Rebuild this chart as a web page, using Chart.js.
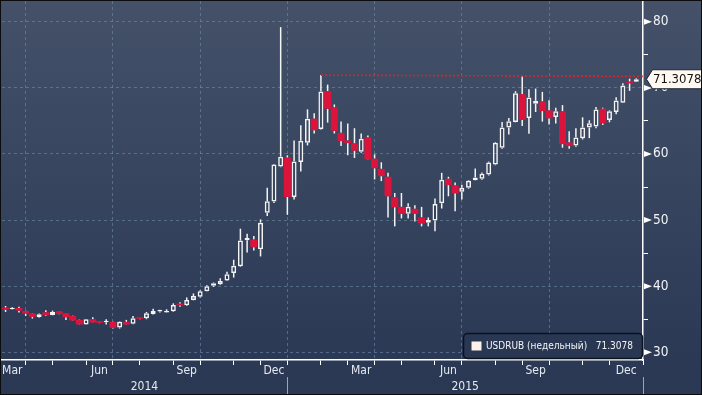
<!DOCTYPE html>
<html>
<head>
<meta charset="utf-8">
<script src="https://cdn.jsdelivr.net/npm/chart.js@4.4.0/dist/chart.umd.min.js"></script>
<style>
  html, body { margin: 0; padding: 0; background: #2b3955; }
  canvas { display: block; }
</style>
</head>
<body>
<canvas id="usdrubChart" width="702" height="395"></canvas>
<script>
/* USDRUB weekly candles, Mar 2014 - Dec 2015 */

const seriesName = 'USDRUB (недельный)';

// weekly OHLC, one entry per week starting with the week of 7 Mar 2014
const opens = [35.9, 36.75, 36.5, 36.7, 36.25, 35.85, 35.35, 36.05, 35.65, 36.2,
    35.9, 35.5, 34.9, 34.2, 35.0, 34.6, 34.55, 34.6, 33.75, 34.6,
    34.3, 35.3, 35.15, 35.8, 36.15, 36.0, 36.2, 37.35, 37.1, 37.9,
    38.4, 39.25, 40.05, 40.3, 40.85, 42.0, 43.0, 46.95, 47.05, 45.6,
    51.1, 52.8, 58.1, 59.45, 53.5, 58.8, 61.7, 65.35, 63.8, 69.5,
    67.05, 63.2, 62.05, 61.6, 60.35, 62.5, 59.3, 57.75, 56.55, 53.45,
    52.0, 50.95, 51.7, 50.4, 49.6, 49.95, 52.55, 56.25, 55.25, 54.3,
    54.9, 56.05, 56.25, 56.9, 58.4, 60.95, 64.0, 64.85, 69.05, 65.45,
    67.6, 67.95, 66.6, 65.6, 66.45, 61.75, 61.3, 62.4, 64.0, 64.15,
    66.85, 65.15, 66.35, 67.75, 70.95, 70.95];
const highs = [36.45, 37.0, 36.8, 36.9, 36.3, 35.9, 35.85, 36.35, 36.3, 36.25,
    35.95, 35.55, 34.95, 35.05, 35.3, 34.65, 35.0, 34.65, 34.65, 34.9,
    35.5, 35.35, 36.1, 36.6, 36.45, 36.5, 37.4, 37.55, 38.3, 38.9,
    39.4, 40.15, 40.55, 41.2, 42.2, 44.0, 48.7, 47.95, 47.6, 50.1,
    54.9, 58.5, 79.2, 59.8, 62.05, 64.35, 66.75, 66.15, 71.95, 70.5,
    67.5, 64.9, 64.6, 63.9, 63.1, 62.8, 59.95, 58.75, 57.15, 54.1,
    54.1, 52.55, 52.25, 52.0, 50.4, 53.25, 57.15, 56.55, 55.7, 55.35,
    56.05, 57.8, 57.2, 58.85, 61.8, 64.85, 65.45, 69.5, 71.8, 69.8,
    69.9, 69.4, 68.15, 67.0, 67.4, 63.45, 63.9, 65.55, 65.1, 67.1,
    67.0, 66.6, 68.6, 70.7, 71.4, 71.45];
const lows = [35.5, 36.1, 36.45, 36.0, 35.5, 35.1, 35.25, 35.5, 35.6, 35.75,
    34.9, 34.75, 34.15, 34.15, 34.45, 34.4, 34.2, 33.6, 33.6, 34.15,
    34.25, 35.0, 35.0, 35.7, 36.0, 35.95, 36.1, 36.9, 37.0, 37.85,
    38.3, 39.2, 39.9, 40.2, 40.8, 41.3, 42.9, 45.1, 45.4, 44.5,
    50.6, 52.6, 58.0, 50.8, 53.1, 57.35, 61.3, 63.1, 63.7, 64.75,
    63.1, 61.2, 59.8, 59.4, 60.2, 59.15, 56.15, 55.9, 50.4, 49.05,
    50.25, 50.25, 49.8, 49.05, 49.05, 48.3, 51.75, 53.6, 51.35, 53.1,
    54.75, 56.0, 56.1, 56.75, 58.3, 60.8, 62.95, 64.8, 64.25, 63.05,
    66.35, 64.9, 64.45, 64.6, 60.95, 60.8, 61.1, 62.2, 62.4, 63.9,
    64.4, 64.8, 66.0, 67.7, 69.55, 70.9];
const closes = [36.2, 36.45, 36.7, 36.3, 35.85, 35.35, 35.75, 35.6, 36.1, 35.8,
    35.3, 34.8, 34.2, 35.0, 34.5, 34.45, 34.6, 33.7, 34.6, 34.2,
    35.15, 35.05, 35.9, 36.25, 36.25, 36.25, 37.15, 37.1, 37.9, 38.5,
    39.25, 40.0, 40.45, 40.8, 41.8, 43.1, 46.9, 47.3, 45.9, 49.6,
    52.85, 58.4, 59.6, 53.5, 58.85, 62.0, 65.35, 63.6, 69.45, 66.85,
    63.5, 61.95, 61.65, 60.5, 62.3, 59.2, 57.85, 56.65, 53.6, 51.95,
    50.95, 52.0, 50.95, 49.5, 50.0, 52.45, 56.1, 55.3, 54.05, 54.9,
    55.95, 56.45, 57.0, 58.7, 61.7, 64.0, 64.95, 69.2, 65.15, 68.55,
    68.05, 66.5, 65.4, 66.45, 61.5, 61.2, 62.5, 64.0, 64.65, 66.75,
    64.65, 66.45, 68.1, 70.35, 70.7, 71.3078];

// x axis: week index of the first week of each month, quarter starts get a grid line
const monthTicks = [4, 8, 13, 17, 21, 26, 30, 35, 39, 43, 48, 52, 56, 60, 65, 69, 74, 78, 82, 87, 91, 96];
const quarterTicks = [4, 17, 30, 43, 56, 69, 82];
const monthLabelPos = [2, 15, 28, 41, 54, 67, 80, 93.5];
const monthLabels = ['Mar', 'Jun', 'Sep', 'Dec', 'Mar', 'Jun', 'Sep', 'Dec'];
const yearLabelPos = [21.7, 69.5];
const yearLabels = ['2014', '2015'];
const yearBreaks = [43, 96];
const xMin = 0.47, xMax = 96;

// y axis
const yTicks = [30, 35, 40, 45, 50, 55, 60, 65, 70, 75, 80];
const yMin = 28.83, yMax = 83.15;

// resistance line across the two highs
const trendX = [48, 96];
const trendY = [71.93, 71.75];

const FONT = "'DejaVu Sans Condensed', 'Liberation Sans Narrow', sans-serif";
const GRID = 'rgba(108, 140, 168, 0.6)';
const UP = '#f4f4f4';
const DOWN = '#dc143c';
const CLEAR = 'rgba(0,0,0,0)';

const weeks = closes.map((_, i) => i);
const upperWicks = weeks.map(i => ({ x: i, y: [Math.max(opens[i], closes[i]), highs[i]] }));
const lowerWicks = weeks.map(i => ({ x: i, y: [lows[i], Math.min(opens[i], closes[i])] }));
const upBodies = weeks.filter(i => closes[i] >= opens[i]).map(i => ({ x: i, y: [opens[i], closes[i]] }));
const downBodies = weeks.filter(i => closes[i] < opens[i]).map(i => ({ x: i, y: [opens[i], closes[i]] }));
const lastClose = closes[closes.length - 1];

function fixedTicks(list) {
    return scale => { scale.ticks = list.map(v => ({ value: v })); };
}

// force a box size and drop the label overhang padding Chart.js adds
function fixedSize(prop, size) {
    return scale => {
        scale[prop] = size;
        scale.paddingTop = 0; scale.paddingBottom = 0;
        scale.paddingLeft = 0; scale.paddingRight = 0;
    };
}

const decor = {
    id: 'decor',
    beforeDraw(chart) {
        const { ctx, width, height } = chart;
        const g = ctx.createLinearGradient(0, 0, 0, height);
        g.addColorStop(0, '#445169');
        g.addColorStop(0.9, '#2b3955');
        g.addColorStop(1, '#2a3854');
        ctx.save();
        ctx.fillStyle = g;
        ctx.fillRect(0, 0, width, height);
        ctx.restore();
    },
    afterDraw(chart) {
        const { ctx, chartArea, width, height } = chart;
        const x = chart.scales.x, y = chart.scales.y;
        ctx.save();

        // arrow markers on the price axis
        ctx.fillStyle = '#ffffff';
        yTicks.filter(v => v % 10 === 0).forEach(v => {
            const py = y.getPixelForValue(v);
            ctx.beginPath();
            ctx.moveTo(chartArea.right + 1, py - 3);
            ctx.lineTo(chartArea.right + 9, py);
            ctx.lineTo(chartArea.right + 1, py + 3);
            ctx.closePath();
            ctx.fill();
        });

        // year separators
        ctx.strokeStyle = '#9aa6b6';
        ctx.lineWidth = 1;
        yearBreaks.forEach(v => {
            const px = Math.round(x.getPixelForValue(v)) + 0.5;
            ctx.beginPath();
            ctx.moveTo(px, chartArea.bottom + 17);
            ctx.lineTo(px, height);
            ctx.stroke();
        });

        // legend box
        const lx = chartArea.right - 179.5, ly = chartArea.bottom - 26.5;
        ctx.beginPath();
        ctx.roundRect(lx, ly, 179, 25, 4);
        ctx.fillStyle = '#2a3753';
        ctx.fill();
        ctx.strokeStyle = '#0b111d';
        ctx.lineWidth = 1.5;
        ctx.stroke();
        ctx.fillStyle = '#fdf1e9';
        ctx.fillRect(lx + 8, ly + 8, 10, 9);
        ctx.font = '10px ' + FONT;
        ctx.fillStyle = '#f2f4f7';
        ctx.textBaseline = 'middle';
        ctx.textAlign = 'left';
        ctx.fillText(seriesName, lx + 22.5, ly + 13);
        ctx.textAlign = 'right';
        ctx.fillText(lastClose.toFixed(4), chartArea.right - 10, ly + 13);

        // last price tag
        const py = y.getPixelForValue(lastClose);
        const tx = chartArea.right + 3.5;
        ctx.beginPath();
        ctx.moveTo(tx, py);
        ctx.lineTo(tx + 6, py - 9.5);
        ctx.lineTo(width + 2, py - 9.5);
        ctx.lineTo(width + 2, py + 9.5);
        ctx.lineTo(tx + 6, py + 9.5);
        ctx.closePath();
        ctx.fillStyle = '#fff9f1';
        ctx.fill();
        ctx.strokeStyle = '#1c2433';
        ctx.lineWidth = 1;
        ctx.stroke();
        ctx.fillStyle = '#121212';
        ctx.textAlign = 'left';
        ctx.font = '13px ' + FONT;
        ctx.fillText(lastClose.toFixed(4), tx + 6.5, py + 0.5);

        // outer frame
        ctx.strokeStyle = '#0c0c0c';
        ctx.lineWidth = 2;
        ctx.strokeRect(0, 0, width, height);
        ctx.restore();
    }
};

Chart.defaults.font.family = FONT;

const barBase = { type: 'bar', grouped: false, inflateAmount: 0, borderSkipped: false, xAxisID: 'x', yAxisID: 'y' };

new Chart(document.getElementById('usdrubChart'), {
    type: 'bar',
    data: {
        datasets: [
            { ...barBase, label: 'upper', data: upperWicks, backgroundColor: UP, barThickness: 1.5, order: 3 },
            { ...barBase, label: 'lower', data: lowerWicks, backgroundColor: UP, barThickness: 1.5, order: 3 },
            { ...barBase, label: 'up', data: upBodies, backgroundColor: CLEAR, borderColor: UP, borderWidth: 1.5, barThickness: 5, minBarLength: 1.5, order: 2 },
            { ...barBase, label: 'down', data: downBodies, backgroundColor: DOWN, borderWidth: 0, barThickness: 7, minBarLength: 1.5, order: 2 },
            {
                type: 'line', label: 'trend', xAxisID: 'x', yAxisID: 'y',
                data: trendX.map((v, i) => ({ x: v, y: trendY[i] })),
                borderColor: '#e3202f', borderWidth: 1.6, borderDash: [2, 2],
                pointRadius: 0, fill: false, order: 1
            }
        ]
    },
    options: {
        responsive: false,
        animation: false,
        devicePixelRatio: 1,
        layout: { padding: { left: 2, top: 1, right: 0, bottom: 0 } },
        plugins: { legend: { display: false }, tooltip: { enabled: false } },
        scales: {
            x: {
                type: 'linear', position: 'bottom', min: xMin, max: xMax, offset: false,
                afterBuildTicks: fixedTicks(monthTicks),
                afterFit: fixedSize('height', 4),
                ticks: { display: false, autoSkip: false },
                grid: {
                    offset: false, lineWidth: 1, tickLength: 5, tickColor: '#ffffff',
                    color: c => (c.tick && quarterTicks.includes(c.tick.value)) ? GRID : CLEAR
                },
                border: { display: true, color: '#ffffff', width: 1.5, dash: [3, 3] }
            },
            xm: {
                type: 'linear', position: 'bottom', min: xMin, max: xMax, offset: false,
                afterBuildTicks: fixedTicks(monthLabelPos),
                afterFit: fixedSize('height', 16),
                ticks: {
                    autoSkip: false, maxRotation: 0, padding: 0, color: '#e6ebf1',
                    font: { size: 12 }, callback: (v, i) => monthLabels[i]
                },
                grid: { display: false, drawTicks: false, offset: false },
                border: { display: false }
            },
            xy: {
                type: 'linear', position: 'bottom', min: xMin, max: xMax, offset: false,
                afterBuildTicks: fixedTicks(yearLabelPos),
                afterFit: fixedSize('height', 15),
                ticks: {
                    autoSkip: false, maxRotation: 0, padding: 0, color: '#e6ebf1',
                    font: { size: 12 }, callback: (v, i) => yearLabels[i]
                },
                grid: { display: false, drawTicks: false, offset: false },
                border: { display: false }
            },
            y: {
                type: 'linear', position: 'right', min: yMin, max: yMax, beginAtZero: false,
                afterBuildTicks: fixedTicks(yTicks),
                afterFit: fixedSize('width', 59),
                ticks: {
                    padding: 5, color: '#f0f3f7', font: { size: 13.5 },
                    callback: v => (v % 10 === 0 ? String(v) : '')
                },
                grid: {
                    lineWidth: 1, tickLength: 5,
                    color: c => (c.tick && c.tick.value % 10 === 0) ? GRID : CLEAR,
                    tickColor: c => (c.tick && c.tick.value % 10 === 0) ? CLEAR : '#ffffff'
                },
                border: { display: true, color: '#ffffff', width: 1.5, dash: [3, 3] }
            }
        }
    },
    plugins: [decor]
});
</script>
</body>
</html>
